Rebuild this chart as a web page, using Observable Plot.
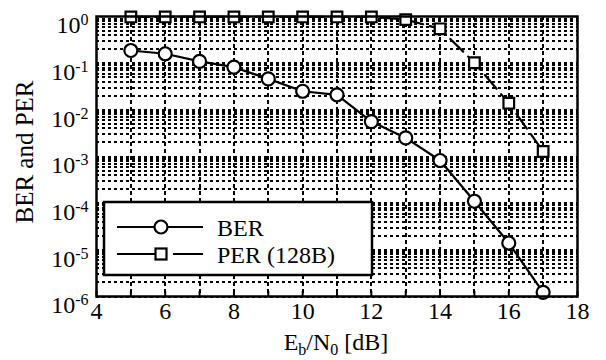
<!DOCTYPE html>
<html>
<head>
<meta charset="utf-8">
<script src="https://cdn.jsdelivr.net/npm/d3@7"></script>
<script src="https://cdn.jsdelivr.net/npm/@observablehq/plot@0.6"></script>
<style>
  html, body { margin: 0; padding: 0; background: white; }
  svg text, svg tspan { font-family: "Liberation Serif", "Times New Roman", serif !important; }
</style>
</head>
<body>
<div id="chart"></div>
<script>
// ---- data ----
const ebn0 = [5, 6, 7, 8, 9, 10, 11, 12, 13, 14, 15, 16, 17];
const ber  = [0.187, 0.159, 0.109, 0.082, 0.046, 0.025, 0.021, 0.0056, 0.0025, 8.2e-4, 1.1e-4, 1.4e-5, 1.23e-6];
const per  = [0.98, 0.98, 0.98, 0.98, 0.98, 0.98, 0.98, 0.98, 0.86, 0.545, 0.102, 0.0139, 0.00128];
const xTicks = [4, 6, 8, 10, 12, 14, 16, 18];
const xGrid = [5, 6, 7, 8, 9, 10, 11, 12, 13, 14, 15, 16, 17];
const yTicks = [1e-6, 1e-5, 1e-4, 1e-3, 1e-2, 1e-1, 1];
const seriesNames = ["BER", "PER (128B)"];
const yLabel = "BER and PER";

const yGrid = [];
for (let k = -6; k < 0; k++) for (let m = 1; m <= 9; m++) yGrid.push(m * Math.pow(10, k));

const rows = ebn0.map((x, i) => ({x, ber: ber[i], per: per[i]}));
const font = "Liberation Serif, Times New Roman, serif";

const plot = Plot.plot({
  width: 606,
  height: 360,
  marginLeft: 96,
  marginRight: 29,
  marginTop: 16,
  marginBottom: 64,
  style: {fontFamily: font, fontSize: "24px", background: "white", color: "black"},
  x: {domain: [4, 18]},
  y: {type: "log", domain: [1e-6, 1]},
  marks: [
    Plot.ruleY(yGrid, {stroke: "black", strokeWidth: 2, strokeDasharray: "3,3", shapeRendering: "crispEdges"}),
    Plot.ruleX(xGrid, {stroke: "black", strokeWidth: 2, strokeDasharray: "4,3", shapeRendering: "crispEdges"}),
    Plot.axisX({ticks: xGrid.concat([4, 18]), tickSize: -5, tickFormat: () => "", label: null, strokeWidth: 2}),
    Plot.axisX({ticks: xTicks, tickSize: 0, tickPadding: 5, label: null, fontSize: 24}),
    Plot.axisY({ticks: yTicks, tickSize: 0, tickPadding: 8, label: null,
      tickFormat: d => String(Math.round(Math.log10(d))), fontSize: 24}),
    Plot.line(rows, {x: "x", y: "ber", stroke: "black", strokeWidth: 2.2}),
    Plot.line(rows, {x: "x", y: "per", stroke: "black", strokeWidth: 2.2, strokeDasharray: "18,7"}),
    Plot.dot(rows, {x: "x", y: "ber", r: 6.5, fill: "white", stroke: "black", strokeWidth: 2.2}),
    Plot.dot(rows, {x: "x", y: "per", symbol: "square", r: 6, fill: "white", stroke: "black", strokeWidth: 2.2}),
    Plot.frame({stroke: "black", strokeWidth: 2.5})
  ]
});

document.getElementById("chart").appendChild(plot);
const svg = d3.select(plot);

// superscript y tick labels: 10^k
svg.selectAll('g[aria-label="y-axis tick label"] text').each(function() {
  const t = d3.select(this);
  const exp = t.text().replace("\u2212", "-");
  t.text("10").attr("dy", "9");
  t.append("tspan").attr("dy", "-8").attr("font-size", "16px").text(exp);
});

// y label
svg.append("text")
  .attr("transform", "translate(33,152) rotate(-90)")
  .attr("text-anchor", "middle")
  .attr("font-size", "25px").attr("fill", "black")
  .text(yLabel);

// x label E_b/N_0 [dB]
const xl = svg.append("text")
  .attr("x", 336).attr("y", 350)
  .attr("text-anchor", "middle")
  .attr("font-size", "24px").attr("fill", "black");
xl.append("tspan").text("E");
xl.append("tspan").attr("dy", "5").attr("font-size", "16px").text("b");
xl.append("tspan").attr("dy", "-5").text("/N");
xl.append("tspan").attr("dy", "5").attr("font-size", "16px").text("0");
xl.append("tspan").attr("dy", "-5").text(" [dB]");

// legend
const lg = svg.append("g").attr("font-size", "24px").attr("text-anchor", "start");
lg.append("rect").attr("x", 104).attr("y", 202).attr("width", 268).attr("height", 73)
  .attr("fill", "white").attr("stroke", "black").attr("stroke-width", 2.5);
const ly = [227, 254];
lg.append("line").attr("x1", 117).attr("x2", 203).attr("y1", ly[0]).attr("y2", ly[0])
  .attr("stroke", "black").attr("stroke-width", 2.2);
lg.append("circle").attr("cx", 161).attr("cy", ly[0]).attr("r", 6.5)
  .attr("fill", "white").attr("stroke", "black").attr("stroke-width", 2.2);
lg.append("line").attr("x1", 117).attr("x2", 203).attr("y1", ly[1]).attr("y2", ly[1])
  .attr("stroke", "black").attr("stroke-width", 2.2).attr("stroke-dasharray", "38,18");
lg.append("rect").attr("x", 155.5).attr("y", ly[1] - 5.5).attr("width", 11).attr("height", 11)
  .attr("fill", "white").attr("stroke", "black").attr("stroke-width", 2.2);
lg.selectAll("text.lt").data(seriesNames).join("text")
  .attr("x", 217).attr("y", (d, i) => ly[i] + 9).attr("fill", "black").text(d => d);
</script>
</body>
</html>
